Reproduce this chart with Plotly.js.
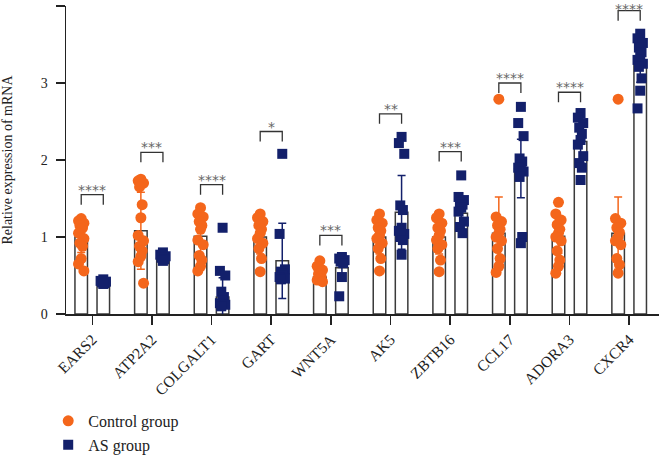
<!DOCTYPE html>
<html>
<head>
<meta charset="utf-8">
<script src="https://cdn.plot.ly/plotly-3.0.1.min.js"></script>
<style>
  html, body { margin: 0; padding: 0; background: #ffffff; }
  #chart { width: 659px; height: 455px; }
</style>
</head>
<body>
<div id="chart"></div>
<script>
// ---------- data ----------
const genes = ['EARS2', 'ATP2A2', 'COLGALT1', 'GART', 'WNT5A', 'AK5', 'ZBTB16', 'CCL17', 'ADORA3', 'CXCR4'];

const controlMean = [1.00, 1.08, 1.01, 1.00, 0.48, 1.00, 1.00, 1.05, 1.01, 1.05];
const controlSD   = [0.20, 0.50, 0.28, 0.22, 0.09, 0.22, 0.22, 0.47, 0.22, 0.47];
const asMean      = [0.42, 0.73, 0.22, 0.69, 0.60, 1.32, 1.31, 1.89, 2.24, 3.28];
const asSD        = [0.03, 0.04, 0.25, 0.49, 0.15, 0.48, 0.20, 0.38, 0.28, 0.27];

const controlPoints = [
  [1.24, 1.21, 1.18, 1.15, 1.12, 1.10, 1.05, 0.98, 0.92, 0.88, 0.72, 0.65, 0.56],
  [1.75, 1.73, 1.70, 1.65, 1.42, 1.25, 1.02, 0.95, 0.88, 0.82, 0.75, 0.68, 0.40],
  [1.38, 1.30, 1.26, 1.20, 1.15, 1.10, 0.96, 0.90, 0.76, 0.70, 0.62, 0.56],
  [1.30, 1.25, 1.20, 1.15, 1.10, 1.05, 0.98, 0.92, 0.85, 0.72, 0.55],
  [0.69, 0.62, 0.57, 0.52, 0.49, 0.46, 0.44, 0.42],
  [1.30, 1.22, 1.18, 1.12, 1.08, 1.02, 0.98, 0.92, 0.85, 0.72, 0.56],
  [1.30, 1.25, 1.18, 1.12, 1.08, 1.02, 0.96, 0.90, 0.85, 0.70, 0.55],
  [2.79, 1.26, 1.20, 1.15, 1.10, 1.05, 1.00, 0.95, 0.85, 0.72, 0.62, 0.54],
  [1.45, 1.30, 1.22, 1.16, 1.10, 1.05, 1.00, 0.95, 0.82, 0.70, 0.62, 0.53],
  [2.79, 1.24, 1.18, 1.12, 1.06, 1.00, 0.95, 0.90, 0.72, 0.64, 0.53]
];

const asPoints = [
  [0.45, 0.43, 0.42, 0.41, 0.40, 0.39],
  [0.80, 0.77, 0.75, 0.73, 0.71, 0.69],
  [1.12, 0.56, 0.50, 0.29, 0.22, 0.17, 0.14, 0.12, 0.10],
  [2.08, 1.04, 0.58, 0.55, 0.52, 0.50, 0.48, 0.46, 0.45],
  [0.74, 0.72, 0.70, 0.68, 0.66, 0.48, 0.23],
  [2.30, 2.22, 2.08, 1.41, 1.35, 1.12, 1.08, 1.04, 1.00, 0.96, 0.77],
  [1.80, 1.52, 1.48, 1.45, 1.42, 1.38, 1.33, 1.20, 1.13, 1.05],
  [2.69, 2.48, 2.31, 2.02, 1.98, 1.94, 1.90, 1.85, 1.78, 1.00, 0.92],
  [2.61, 2.55, 2.48, 2.42, 2.34, 2.26, 2.20, 2.05, 1.96, 1.90, 1.74],
  [3.64, 3.58, 3.52, 3.46, 3.40, 3.36, 3.30, 3.25, 3.21, 3.06, 2.90, 2.67]
];

const sigLabels = ['****', '***', '****', '*', '***', '**', '***', '****', '****', '****'];
const bracketY  = [1.55, 2.10, 1.68, 2.37, 1.02, 2.60, 2.11, 3.00, 2.88, 3.94];

const groupNames = ['Control group', 'AS group'];

// ---------- styles ----------
const ORANGE = '#F4661B';
const NAVY = '#13206B';
const BAR_LINE = '#3a3a3a';
const OFFSET = 0.185;     // half distance between paired bars (category units)
const BAR_W = 0.21;
const JITTER = [0, -0.045, 0.045, -0.022, 0.022];
const SERIF = 'Liberation Serif, Times New Roman, DejaVu Serif, serif';

const idx = genes.map((g, i) => i);

function pointsXY(pointSets, side) {
  const xs = [], ys = [];
  pointSets.forEach((arr, i) => {
    arr.forEach((v, j) => {
      xs.push(i + side * OFFSET + JITTER[j % JITTER.length]);
      ys.push(v);
    });
  });
  return { xs, ys };
}

const cPts = pointsXY(controlPoints, -1);
const aPts = pointsXY(asPoints, 1);

const traces = [
  {
    type: 'bar', x: idx.map(i => i - OFFSET), y: controlMean, width: BAR_W,
    marker: { color: '#ffffff', line: { color: BAR_LINE, width: 1.5 } },
    error_y: { type: 'data', array: controlSD, visible: true, color: ORANGE, thickness: 1.5, width: 4 },
    showlegend: false, hoverinfo: 'skip'
  },
  {
    type: 'bar', x: idx.map(i => i + OFFSET), y: asMean, width: BAR_W,
    marker: { color: '#ffffff', line: { color: BAR_LINE, width: 1.5 } },
    error_y: { type: 'data', array: asSD, visible: true, color: NAVY, thickness: 1.5, width: 4 },
    showlegend: false, hoverinfo: 'skip'
  },
  {
    type: 'scatter', mode: 'markers', name: groupNames[0],
    x: cPts.xs, y: cPts.ys,
    marker: { symbol: 'circle', size: 11, color: ORANGE },
    cliponaxis: false
  },
  {
    type: 'scatter', mode: 'markers', name: groupNames[1],
    x: aPts.xs, y: aPts.ys,
    marker: { symbol: 'square', size: 10, color: NAVY },
    cliponaxis: false
  }
];

const TICK = 0.13;
const shapes = idx.map(i => ({
  type: 'path', xref: 'x', yref: 'y',
  path: `M ${i - OFFSET},${bracketY[i] - TICK} L ${i - OFFSET},${bracketY[i]} L ${i + OFFSET},${bracketY[i]} L ${i + OFFSET},${bracketY[i] - TICK}`,
  line: { color: '#333333', width: 1.3 }
}));

const annotations = idx.map(i => ({
  x: i, y: bracketY[i], xref: 'x', yref: 'y',
  text: sigLabels[i], showarrow: false, yanchor: 'bottom',
  yshift: (i === idx.length - 1) ? -8 : -5,
  font: { family: 'DejaVu Sans, sans-serif', size: 14, color: '#666666' }
}));

const layout = {
  width: 659, height: 455,
  margin: { l: 66, r: 0, t: 6, b: 141, autoexpand: false },
  paper_bgcolor: '#ffffff', plot_bgcolor: '#ffffff',
  showlegend: true,
  barmode: 'overlay',
  font: { family: SERIF, color: '#222222' },
  xaxis: {
    range: [-0.44, 9.5], tickmode: 'array', tickvals: idx, ticktext: genes,
    tickangle: -45, ticks: 'outside', ticklen: 9, tickwidth: 1.5, tickcolor: '#222',
    showline: true, linecolor: '#222', linewidth: 1.5,
    showgrid: false, zeroline: false,
    tickfont: { family: SERIF, size: 15.5, color: '#222' }
  },
  yaxis: {
    range: [0, 4], tickvals: [0, 1, 2, 3, 4], ticks: 'outside', ticklen: 9, tickwidth: 1.5, tickcolor: '#222',
    showline: true, linecolor: '#222', linewidth: 1.5, showgrid: false, zeroline: false,
    tickfont: { family: SERIF, size: 14, color: '#222' },
    ticklabelstandoff: 5,
    title: { text: 'Relative expression of mRNA', font: { family: SERIF, size: 14, color: '#222' }, standoff: 26 }
  },
  legend: {
    x: -0.03, xanchor: 'left', y: -0.292, yanchor: 'top',
    font: { family: SERIF, size: 16, color: '#222' },
    bgcolor: 'rgba(0,0,0,0)', traceorder: 'normal'
  },
  shapes: shapes,
  annotations: annotations
};

Plotly.newPlot('chart', traces, layout, { displayModeBar: false, staticPlot: true });
</script>
</body>
</html>
